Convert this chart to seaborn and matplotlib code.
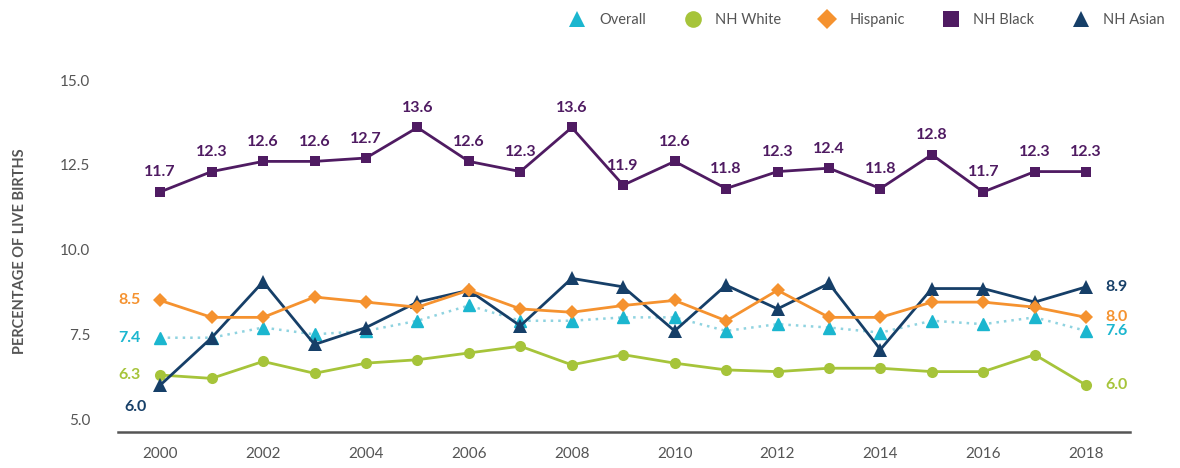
import matplotlib
matplotlib.use("Agg")
import matplotlib.pyplot as plt
from matplotlib.lines import Line2D
import numpy as np
import pandas as pd
import seaborn as sns

# ------------------------------------------------------------------ #
# Data
# ------------------------------------------------------------------ #
years = list(range(2000, 2019))

overall = [7.4, 7.4, 7.7, 7.5, 7.6, 7.9, 8.35, 7.9, 7.9, 8.0, 8.0, 7.6, 7.8, 7.7,
           7.55, 7.9, 7.8, 8.0, 7.6]
nh_white = [6.3, 6.2, 6.7, 6.35, 6.65, 6.75, 6.95, 7.15, 6.6, 6.9, 6.65, 6.45, 6.4,
            6.5, 6.5, 6.4, 6.4, 6.9, 6.0]
hispanic = [8.5, 8.0, 8.0, 8.6, 8.45, 8.3, 8.8, 8.25, 8.15, 8.35, 8.5, 7.9, 8.8,
            8.0, 8.0, 8.45, 8.45, 8.3, 8.0]
nh_black = [11.7, 12.3, 12.6, 12.6, 12.7, 13.6, 12.6, 12.3, 13.6, 11.9, 12.6, 11.8,
            12.3, 12.4, 11.8, 12.8, 11.7, 12.3, 12.3]
nh_asian = [6.0, 7.4, 9.05, 7.2, 7.7, 8.45, 8.8, 7.75, 9.15, 8.9, 7.6, 8.95, 8.25,
            9.0, 7.05, 8.85, 8.85, 8.45, 8.9]

series_names = ["Overall", "NH White", "Hispanic", "NH Black", "NH Asian"]
colors = {"Overall": "#1bb6cf", "NH White": "#a6c43a", "Hispanic": "#f5922f",
          "NH Black": "#4f1b62", "NH Asian": "#163f68"}
markers = {"Overall": "^", "NH White": "o", "Hispanic": "D", "NH Black": "s",
           "NH Asian": "^"}
msizes = {"Overall": 9, "NH White": 8, "Hispanic": 7, "NH Black": 7, "NH Asian": 9.5}

df = pd.DataFrame({"year": years, "Overall": overall, "NH White": nh_white,
                   "Hispanic": hispanic, "NH Black": nh_black, "NH Asian": nh_asian})
long = df.melt(id_vars="year", var_name="group", value_name="pct")

# ------------------------------------------------------------------ #
# Figure
# ------------------------------------------------------------------ #
sns.set_style("white")
plt.rcParams["font.family"] = ["Lato", "DejaVu Sans"]

fig = plt.figure(figsize=(11.8, 4.68), dpi=100)
ax = fig.add_axes([0.1, 0.077, 0.858, 0.773])

# dotted overall line first, underneath everything
sub = long[long["group"] == "Overall"]
sns.lineplot(data=sub, x="year", y="pct", ax=ax, color="#8fd3e0", lw=1.8,
             linestyle=(0, (1, 2)), zorder=1)
ax.plot(sub["year"], sub["pct"], ls="none", marker="^", ms=msizes["Overall"],
        color=colors["Overall"], zorder=2)

order = ["NH White", "NH Asian", "Hispanic", "NH Black"]
for i, g in enumerate(order):
    sub = long[long["group"] == g]
    sns.lineplot(data=sub, x="year", y="pct", ax=ax, color=colors[g], lw=2,
                 marker=markers[g], markersize=msizes[g], markeredgewidth=0,
                 zorder=3 + i)

# labels on NH Black
for x, v in zip(years, nh_black):
    ax.annotate(f"{v:.1f}", (x, v), xytext=(0, 9), textcoords="offset points",
                ha="center", va="bottom", color=colors["NH Black"],
                fontsize=11.5, fontweight="bold")

# start / end labels
start = {"Hispanic": (hispanic[0], (-14, 0)), "Overall": (overall[0], (-14, 0)),
         "NH White": (nh_white[0], (-14, 0)), "NH Asian": (nh_asian[0], (-10, -16))}
for g, (v, off) in start.items():
    ax.annotate(f"{v:.1f}", (years[0], v), xytext=off, textcoords="offset points",
                ha="right", va="center", color=colors[g], fontsize=11.5,
                fontweight="bold")
end = {"NH Asian": nh_asian[-1], "Hispanic": hispanic[-1], "Overall": overall[-1],
       "NH White": nh_white[-1]}
for g, v in end.items():
    ax.annotate(f"{v:.1f}", (years[-1], v), xytext=(14, 0), textcoords="offset points",
                ha="left", va="center", color=colors[g], fontsize=11.5,
                fontweight="bold")

ax.set_xlim(1999.18, 2018.86)
ax.set_ylim(4.62, 15.29)
ax.set_xticks(range(2000, 2019, 2))
ax.set_yticks([5.0, 7.5, 10.0, 12.5, 15.0])
ax.set_yticklabels(["5.0", "7.5", "10.0", "12.5", "15.0"])
ax.tick_params(axis="both", length=0, labelsize=11, colors="#555555")
ax.tick_params(axis="y", pad=20)
ax.tick_params(axis="x", pad=11)
ax.set_xlabel("")
ax.set_ylabel("PERCENTAGE OF LIVE BIRTHS", fontsize=10.5, fontweight="bold",
              color="#555555", labelpad=24)
for s in ["top", "right", "left"]:
    ax.spines[s].set_visible(False)
ax.spines["bottom"].set_color("#555555")
ax.spines["bottom"].set_linewidth(1.8)

handles = [Line2D([], [], ls="none", marker=markers[g], ms=12 if g != "Hispanic" else 10,
                  color=colors[g], markeredgewidth=0) for g in series_names]
fig.legend(handles, series_names, loc="upper right", bbox_to_anchor=(0.998, 1.0),
           ncol=5, frameon=False, fontsize=10.5, handletextpad=0.5, columnspacing=2.2,
           labelcolor="#555555")

fig.savefig("out.png", dpi=100)
